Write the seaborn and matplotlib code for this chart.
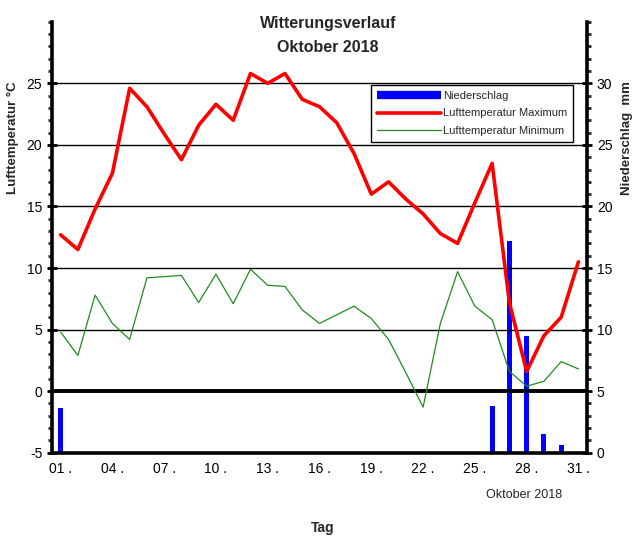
import matplotlib
matplotlib.use("Agg")
import matplotlib.pyplot as plt
import seaborn as sns
import numpy as np
import pandas as pd
from matplotlib.lines import Line2D
from matplotlib.ticker import MultipleLocator

days = list(range(1, 32))
t_max = [12.7, 11.5, 14.8, 17.7, 24.6, 23.1, 20.9, 18.8, 21.6, 23.3, 22.0, 25.8, 25.0, 25.8,
         23.7, 23.1, 21.8, 19.3, 16.0, 17.0, 15.6, 14.4, 12.8, 12.0, 15.3, 18.5, 7.2, 1.6,
         4.5, 6.0, 10.5]
t_min = [4.8, 2.9, 7.8, 5.5, 4.2, 9.2, 9.3, 9.4, 7.2, 9.5, 7.1, 9.9, 8.6, 8.5,
         6.6, 5.5, 6.2, 6.9, 5.9, 4.2, 1.5, -1.3, 5.5, 9.7, 6.9, 5.8, 1.6, 0.4,
         0.8, 2.4, 1.8]
precip = [3.6, 0, 0, 0, 0, 0, 0, 0, 0, 0, 0, 0, 0, 0, 0, 0, 0, 0, 0, 0, 0, 0, 0, 0, 0,
          3.8, 17.2, 9.5, 1.5, 0.6, 0]
tick_days = [1, 4, 7, 10, 13, 16, 19, 22, 25, 28, 31]
tick_labels = ["01 .", "04 .", "07 .", "10 .", "13 .", "16 .", "19 .", "22 .", "25 .", "28 .", "31 ."]
left_ticks = [-5, 0, 5, 10, 15, 20, 25]
right_ticks = [0, 5, 10, 15, 20, 25, 30]

sns.set_theme(style="white")
plt.rcParams['font.family'] = ['Liberation Sans', 'DejaVu Sans']
plt.rcParams['axes.unicode_minus'] = False

df = pd.DataFrame({"Tag": days, "Max": t_max, "Min": t_min, "N": precip})

fig = plt.figure(figsize=(6.37, 5.45), dpi=100)
ax = fig.add_axes([0.0816, 0.1694, 0.84, 0.7906])
ax2 = ax.twinx()

# precipitation bars on right axis (behind)
sns.barplot(data=df, x="Tag", y="N", ax=ax2, native_scale=True, color="#0000FF",
            width=0.3, saturation=1, linewidth=0)
ax2.set_ylim(0, 35)
ax2.set_yticks(right_ticks)
ax2.yaxis.set_minor_locator(MultipleLocator(1))
ax2.set_ylabel("Niederschlag  mm", fontsize=9.5, fontweight="bold")
ax2.yaxis.set_label_coords(1.064, 0.73)

# temperature lines on left axis (in front)
ax.set_zorder(ax2.get_zorder() + 1)
ax.patch.set_visible(False)
for v in [5, 10, 15, 20, 25]:
    ax.axhline(v, color="black", lw=1.0, zorder=1)
ax.axhline(0, color="black", lw=2.8, zorder=1)
sns.lineplot(data=df, x="Tag", y="Max", ax=ax, color="#FF0000", lw=2.6, zorder=3)
sns.lineplot(data=df, x="Tag", y="Min", ax=ax, color="#1E8C1E", lw=0.9, zorder=3)
ax.set_ylim(-5, 30)
ax.set_xlim(0.5, 31.5)
ax.set_yticks(left_ticks)
ax.yaxis.set_minor_locator(MultipleLocator(1))
ax.set_xticks(tick_days)
ax.set_xticklabels(tick_labels)
ax.xaxis.set_minor_locator(MultipleLocator(1))
ax.set_ylabel("Lufttemperatur °C", fontsize=9.5, fontweight="bold")
ax.yaxis.set_label_coords(-0.062, 0.73)
ax.set_xlabel("")

for a in (ax, ax2):
    for s in a.spines.values():
        s.set_linewidth(2.6)
        s.set_color("black")
    a.spines["top"].set_visible(False)
    a.tick_params(which="major", direction="inout", length=7, width=2, labelsize=10, colors="black")
    a.tick_params(which="minor", direction="out", length=3, width=2)
ax.tick_params(axis="x", which="major", direction="out", length=4, labelsize=10, pad=3)
ax.tick_params(axis="x", which="minor", direction="out", length=4, width=2)
ax.spines["right"].set_visible(False)
ax2.spines["left"].set_visible(False)
ax2.spines["bottom"].set_visible(False)
ax2.tick_params(axis="x", which="both", bottom=False, labelbottom=False)
ax.tick_params(axis="y", which="both", right=False)
ax2.tick_params(axis="y", which="both", left=False, right=True)

handles = [Line2D([0], [0], color="#0000FF", lw=6, solid_capstyle="butt"),
           Line2D([0], [0], color="#FF0000", lw=2.6),
           Line2D([0], [0], color="#1E8C1E", lw=0.9)]
labels = ["Niederschlag", "Lufttemperatur Maximum", "Lufttemperatur Minimum"]
leg = ax.legend(handles, labels, loc="upper right", bbox_to_anchor=(0.974, 0.853),
                fontsize=8, frameon=True, fancybox=False, edgecolor="black",
                framealpha=1, handlelength=5.8, handletextpad=0.2, borderpad=0.5,
                labelspacing=0.7, borderaxespad=0)
leg.get_frame().set_linewidth(1.0)

fig.text(0.515, 0.957, "Witterungsverlauf", ha="center", va="center", fontsize=11.5, fontweight="bold")
fig.text(0.515, 0.913, "Oktober 2018", ha="center", va="center", fontsize=11.5, fontweight="bold")
fig.text(0.822, 0.092, "Oktober 2018", ha="center", va="center", fontsize=9)
fig.text(0.506, 0.031, "Tag", ha="center", va="center", fontsize=10, fontweight="bold")

fig.savefig("out.png", dpi=100)
